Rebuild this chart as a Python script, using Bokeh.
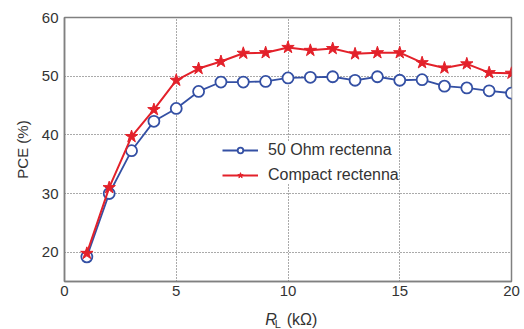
from bokeh.plotting import figure
from bokeh.layouts import column
from bokeh.models import Range1d, FixedTicker, Legend, LegendItem
from bokeh.core.properties import value
from bokeh.embed import file_html
from bokeh.resources import INLINE

rl = list(range(1, 21))
pce_50ohm = [19.2, 30.0, 37.3, 42.3, 44.5, 47.4, 49.0, 49.0, 49.1, 49.7, 49.8, 49.9,
             49.3, 49.9, 49.3, 49.4, 48.3, 48.0, 47.5, 47.1]
pce_compact = [19.8, 31.0, 39.7, 44.3, 49.3, 51.3, 52.5, 53.9, 54.0, 54.9, 54.4, 54.7,
               53.8, 54.0, 54.0, 52.3, 51.4, 52.1, 50.6, 50.5]
x_ticks = [0, 5, 10, 15, 20]
y_ticks = [20, 30, 40, 50, 60]
series_names = ["50 Ohm rectenna", "Compact rectenna"]

FONT = "Liberation Sans"
BLUE = "#3450a4"
RED = "#e3212a"
TXT = "#333333"

p = figure(frame_width=447, frame_height=264, output_backend="svg", toolbar_location=None,
           x_range=Range1d(0, 20), y_range=Range1d(15, 60),
           min_border_left=64, min_border_right=10, min_border_top=17, min_border_bottom=20)

p.outline_line_color = "#808080"
p.outline_line_width = 1.5
for ax in (p.xaxis[0], p.yaxis[0]):
    ax.axis_line_color = "#808080"
    ax.axis_line_width = 1.5
    ax.major_tick_line_color = None
    ax.minor_tick_line_color = None
    ax.major_tick_out = 0
    ax.major_tick_in = 0
    ax.major_label_text_font = FONT
    ax.major_label_text_font_size = "15px"
    ax.major_label_text_color = TXT
p.xaxis.ticker = FixedTicker(ticks=x_ticks)
p.yaxis.ticker = FixedTicker(ticks=y_ticks)
p.xaxis.major_label_standoff = 4
p.yaxis.major_label_standoff = 6
p.yaxis.axis_label = "PCE (%)"
p.yaxis.axis_label_text_font = FONT
p.yaxis.axis_label_text_font_style = "normal"
p.yaxis.axis_label_text_font_size = "15px"
p.yaxis.axis_label_text_color = TXT
p.yaxis.axis_label_standoff = 8

p.grid.grid_line_color = "#555555"
p.grid.grid_line_dash = "1 2"
p.grid.grid_line_width = 1

l1 = p.line(rl, pce_50ohm, line_color=BLUE, line_width=1.8)
m1 = p.scatter(rl, pce_50ohm, marker="circle", size=11, line_color=BLUE,
               fill_color="white", line_width=1.8)
l2 = p.line(rl, pce_compact, line_color=RED, line_width=2)
m2 = p.scatter(rl, pce_compact, marker="star", size=13, line_color=RED,
               fill_color=RED, line_width=1)

legend = Legend(items=[LegendItem(label=series_names[0], renderers=[l1, m1]),
                       LegendItem(label=series_names[1], renderers=[l2, m2])],
                location=(158, 97), border_line_color=None,
                background_fill_color="white", background_fill_alpha=1.0,
                label_text_font=FONT, label_text_font_size="16px",
                label_text_color=TXT, glyph_width=36, glyph_height=14,
                spacing=7, padding=4, label_standoff=10, margin=0)
p.add_layout(legend)

# x-axis title strip (R_L (kΩ)) drawn as real text under the plot
p2 = figure(width=521, height=28, output_backend="svg", toolbar_location=None,
            x_range=Range1d(0, 521), y_range=Range1d(0, 28),
            x_axis_type=None, y_axis_type=None,
            min_border_left=0, min_border_right=0, min_border_top=0, min_border_bottom=0)
p2.outline_line_color = None
p2.grid.visible = False
p2.text(x=[234], y=[10], text=["R"], text_font=value(FONT), text_font_style="italic",
        text_font_size="16px", text_baseline="middle", text_color=TXT)
p2.text(x=[245], y=[6], text=["L"], text_font=value(FONT),
        text_font_size="11px", text_baseline="middle", text_color=TXT)
p2.text(x=[259], y=[10], text=["(kΩ)"], text_font=value(FONT),
        text_font_size="16px", text_baseline="middle", text_color=TXT)

layout = column(p, p2, spacing=0)
open("out.html", "w").write(file_html(layout, INLINE))
